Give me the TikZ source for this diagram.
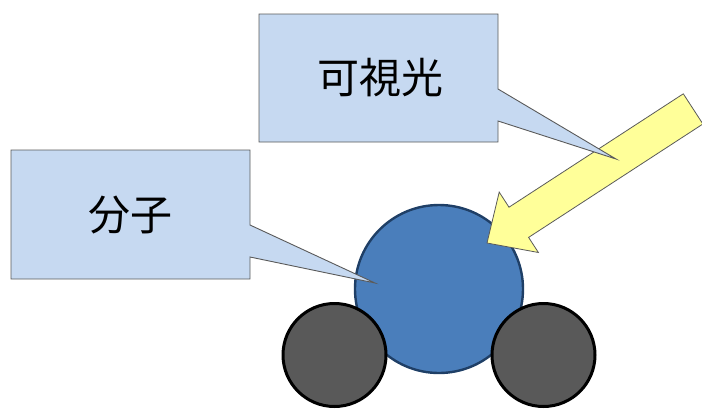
\documentclass[tikz,border=0pt]{standalone}
\usepackage{fontspec}
\newfontfamily\cjk{Noto Sans CJK JP}
\definecolor{callfill}{HTML}{C6D9F1}
\definecolor{calldraw}{HTML}{5A5A5A}
\definecolor{molfill}{HTML}{4A7EBB}
\definecolor{moldraw}{HTML}{1F3F66}
\definecolor{atomfill}{HTML}{595959}
\definecolor{lightfill}{HTML}{FFFF99}
\tikzset{
  callout/.style={fill=callfill, draw=calldraw, line width=0.9pt, line join=miter},
  label/.style={font=\cjk\fontsize{42}{46}\selectfont, text=black, inner sep=0pt},
  molecule/.style={circle, fill=molfill, draw=moldraw, line width=2.4pt, minimum size=168pt, inner sep=0pt},
  atom/.style={circle, fill=atomfill, draw=black, line width=3pt, minimum size=103pt, inner sep=0pt},
  ray/.style={fill=lightfill, draw=calldraw, line width=0.8pt, line join=miter}
}
\begin{document}
\begin{tikzpicture}[x=1pt, y=-1pt]
  \useasboundingbox (0,0) rectangle (702,408);
  % molecule: central sphere with two attached atoms
  \node[molecule] (mol) at (439,289) {};
  \node[atom] (atomL) at (334.5,355) {};
  \node[atom] (atomR) at (543.5,355) {};
  % incoming visible light
  \coordinate (tip) at (487,243);
  \draw[ray] (tip) -- (499.2,192.1) -- (509.0,207.2) -- (683.3,93.8)
    -- (702.9,124) -- (528.6,237.4) -- (538.4,252.5) -- cycle;
  % callout for the light
  \coordinate (lighttip) at (616,159);
  \draw[callout] (259,14) -- (498,14) -- (498,89) -- (lighttip)
    -- (498,121) -- (498,142) -- (259,142) -- cycle;
  \node[label] (lightlabel) at (380,78) {可視光};
  % callout for the molecule
  \coordinate (moltip) at (375,283);
  \draw[callout] (11,150) -- (250,150) -- (250,225) -- (moltip)
    -- (250,257) -- (250,279) -- (11,279) -- cycle;
  \node[label] (mollabel) at (130,215) {分子};
\end{tikzpicture}
\end{document}
